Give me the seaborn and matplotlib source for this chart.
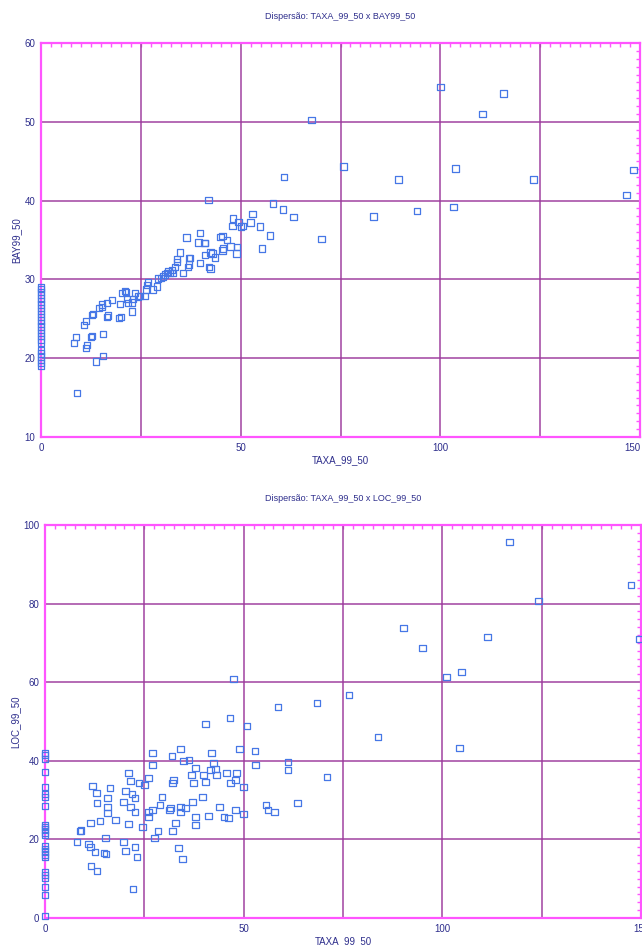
import matplotlib
matplotlib.use("Agg")
import matplotlib.pyplot as plt
from matplotlib.ticker import MultipleLocator
import seaborn as sns
import pandas as pd

sns.set_style("white")
plt.rcParams["font.family"] = ["Liberation Sans Narrow", "Liberation Sans", "DejaVu Sans"]

# ---- TAXA_99_50 x BAY99_50 ----
taxa_bay = [0] * 25 + [
    8.3, 8.8, 9.0, 10.8, 11.3, 11.3, 11.5, 12.5, 12.8, 12.8, 13.0, 13.8, 14.5, 15.3, 15.3,
    15.5, 15.5, 16.5, 16.8, 16.5, 17.8, 19.8, 19.5, 20.0, 20.3, 21.0, 21.3, 21.5, 21.8,
    22.8, 22.8, 23.0, 23.6, 24.3, 24.8, 26.0, 26.3, 26.5, 26.8, 28.0, 29.0, 29.3, 30.0,
    30.5, 31.0, 31.5, 31.8, 32.3, 32.8, 33.0, 33.6, 34.0, 35.5, 37.1, 39.8, 42.1, 41.9,
    36.5, 39.8, 39.4, 41.1, 34.0, 34.8, 37.1, 41.1, 42.4, 43.6, 45.0, 45.6, 46.6, 47.4,
    47.9, 48.1, 49.1, 49.4, 50.1, 50.6, 52.4, 52.9, 54.9, 55.4, 57.4, 58.1, 60.6, 63.2,
    60.9, 67.7, 70.2, 75.7, 83.2, 89.5, 94.2, 100.0, 103.3, 103.8, 110.5, 115.8, 123.3,
    146.6, 148.4, 37.3, 36.8, 42.4, 42.9, 45.4, 48.9, 40.9, 45.4,
]
bay = [
    19.0, 19.4, 19.8, 20.2, 20.6, 21.0, 22.0, 22.4, 22.8, 23.2, 23.6, 24.0, 24.4, 24.8,
    25.2, 25.6, 26.0, 26.4, 26.8, 27.2, 27.6, 28.0, 28.4, 28.8, 29.0,
] + [
    21.9, 22.7, 15.6, 24.2, 24.7, 21.3, 21.7, 22.7, 22.8, 25.5, 25.6, 19.6, 26.4, 26.5, 26.8,
    23.1, 20.3, 25.2, 25.4, 27.0, 27.4, 26.9, 25.1, 25.2, 28.3, 28.5, 28.4, 27.5, 27.0,
    25.9, 27.1, 27.5, 28.3, 27.8, 27.9, 27.9, 28.7, 29.3, 29.7, 28.7, 29.1, 30.1, 30.2,
    30.4, 30.6, 30.8, 31.0, 30.8, 31.2, 30.8, 31.6, 32.2, 30.8, 31.9, 32.1, 31.6, 40.1,
    35.3, 35.9, 34.7, 34.6, 32.6, 33.4, 32.7, 33.1, 33.4, 32.8, 35.4, 33.9, 35.0, 34.2,
    36.8, 37.7, 34.1, 37.3, 36.7, 36.8, 37.2, 38.3, 36.7, 33.9, 35.6, 39.6, 38.9, 37.9,
    43.0, 50.2, 35.1, 44.3, 38.0, 42.7, 38.7, 54.4, 39.2, 44.1, 51.0, 53.6, 42.7,
    40.7, 43.9, 32.7, 31.6, 31.4, 33.3, 33.7, 33.3, 34.6, 35.5,
]

# ---- TAXA_99_50 x LOC_99_50 ----
taxa_loc = [0] * 24 + [
    116.9, 147.5, 124.2, 149.5, 90.2, 95.0, 111.4, 104.8, 101.0, 76.5, 68.4, 83.8, 104.3,
    71.0, 47.5, 58.6, 46.5, 40.4, 50.8,
    27.0, 32.0, 34.1, 41.9, 49.0, 52.8, 34.9, 36.2, 27.0, 42.4, 53.0, 61.1, 61.1, 37.9,
    41.7, 42.9, 36.9, 39.9, 43.2, 45.7, 48.2, 21.0, 21.5, 23.7, 25.0, 26.0, 32.3, 32.1,
    37.4, 40.4, 46.7, 48.0, 50.0, 11.9, 12.9, 16.4, 20.2, 21.9, 22.7, 15.7, 13.1, 19.7,
    21.5, 22.7, 15.7, 15.7, 17.7, 13.9, 11.4, 21.0, 24.5, 26.0, 26.0, 27.0, 29.0, 29.5,
    31.6, 31.3, 34.1, 34.1, 35.4, 37.1, 39.6, 37.9, 37.9, 32.8, 41.2, 43.9, 45.0, 46.2,
    48.0, 50.0, 55.6, 56.1, 57.8, 63.6, 8.8, 9.0, 8.1, 10.9, 11.4, 12.6, 15.2, 14.9,
    15.4, 19.7, 20.2, 22.7, 23.2, 27.5, 28.5, 32.1, 33.6, 34.6, 11.6, 13.1, 22.2,
]
loc = [
    0.5, 5.9, 7.9, 10.2, 11.0, 11.7, 15.5, 16.2, 16.9, 17.6, 18.3, 21.1, 21.8, 22.5,
    23.2, 23.7, 28.5, 30.8, 31.5, 33.3, 37.1, 40.5, 41.5, 42.0,
] + [
    95.7, 84.7, 80.7, 71.0, 73.8, 68.7, 71.5, 62.6, 61.3, 56.7, 54.7, 46.0, 43.3,
    35.9, 60.8, 53.7, 50.9, 49.4, 48.9,
    42.0, 41.2, 43.0, 42.0, 43.0, 42.5, 40.0, 40.2, 38.9, 39.4, 38.9, 39.7, 37.7, 38.2,
    37.7, 37.9, 36.4, 36.4, 36.4, 36.9, 36.9, 36.9, 34.9, 34.3, 33.8, 35.6, 35.1, 34.3,
    34.3, 34.6, 34.3, 35.1, 33.3, 33.6, 31.8, 33.1, 32.3, 31.6, 30.5, 30.5, 29.3, 29.5,
    28.2, 27.0, 28.2, 26.7, 24.9, 24.7, 24.2, 23.9, 23.2, 27.0, 25.7, 27.5, 28.8, 30.8,
    28.0, 27.5, 28.2, 27.0, 28.0, 29.5, 30.8, 25.7, 23.7, 24.2, 26.0, 28.2, 25.7, 25.4,
    27.5, 26.5, 28.8, 27.5, 27.0, 29.3, 22.1, 22.3, 19.3, 18.8, 18.1, 16.8, 20.4, 16.5,
    16.3, 19.3, 17.0, 18.1, 15.5, 20.4, 22.1, 22.1, 17.8, 15.0, 13.2, 12.0, 7.4,
]

x_ticks = [0, 50, 100, 150]

df_bay = pd.DataFrame({"TAXA_99_50": taxa_bay, "BAY99_50": bay})
df_loc = pd.DataFrame({"TAXA_99_50": taxa_loc, "LOC_99_50": loc})

frame_col = "#ff55ff"
grid_col = "#9c3a9c"
text_col = "#2e2e8c"
mark_col = "#4677e6"

W, H = 642, 946
fig = plt.figure(figsize=(W / 100, H / 100), dpi=100)
fig.patch.set_facecolor("white")


def px_axes(left, right, top, bottom):
    return fig.add_axes([left / W, 1 - bottom / H, (right - left) / W, (bottom - top) / H])


def style(ax, xmax, ymin, ymax, ystep, yminor, title, xlabel, ylabel, pull_last=False):
    ax.set_xlim(0, xmax)
    ax.set_ylim(ymin, ymax)
    ax.set_xticks(x_ticks)
    ax.xaxis.set_minor_locator(MultipleLocator(2.5))
    ax.set_yticks(list(range(ymin, ymax + 1, ystep)))
    ax.yaxis.set_minor_locator(MultipleLocator(yminor))
    for x in range(25, xmax, 25):
        ax.axvline(x, color=grid_col, lw=1.4, alpha=0.75, zorder=1)
    for y in range(ymin + ystep, ymax, ystep):
        ax.axhline(y, color=grid_col, lw=1.4, alpha=0.75, zorder=1)
    for s in ax.spines.values():
        s.set_color(frame_col)
        s.set_linewidth(1.6)
        s.set_visible(True)
    ax.tick_params(which="both", direction="in", color=frame_col, top=True, right=True,
                   labelcolor=text_col, labelsize=7, pad=4)
    ax.tick_params(which="major", length=0)
    ax.tick_params(which="minor", length=3, width=1)
    ax.set_title(title, fontsize=6.5, color=text_col, pad=17)
    ax.set_xlabel(xlabel, fontsize=7, color=text_col, labelpad=2)
    ax.set_ylabel(ylabel, fontsize=7, color=text_col, labelpad=2)
    ax.set_facecolor("white")
    if pull_last:
        # keep the rightmost x label inside the figure
        ax.set_xticklabels([str(v) for v in x_ticks])
        ax.xaxis.get_major_ticks()[-1].label1.set_horizontalalignment("right")


ax1 = px_axes(41, 640, 43, 437)
sns.scatterplot(data=df_bay, x="TAXA_99_50", y="BAY99_50", ax=ax1, marker="s", s=22,
                facecolor="none", edgecolor=mark_col, linewidth=0.9, zorder=3, clip_on=False)
style(ax1, 150, 10, 60, 10, 1, "Dispersão: TAXA_99_50 x BAY99_50", "TAXA_99_50", "BAY99_50",
      pull_last=True)

ax2 = px_axes(45, 641, 525, 918)
sns.scatterplot(data=df_loc, x="TAXA_99_50", y="LOC_99_50", ax=ax2, marker="s", s=22,
                facecolor="none", edgecolor=mark_col, linewidth=0.9, zorder=3, clip_on=False)
style(ax2, 150, 0, 100, 20, 2, "Dispersão: TAXA_99_50 x LOC_99_50", "TAXA_99_50", "LOC_99_50")

fig.savefig("out.png", dpi=100)
